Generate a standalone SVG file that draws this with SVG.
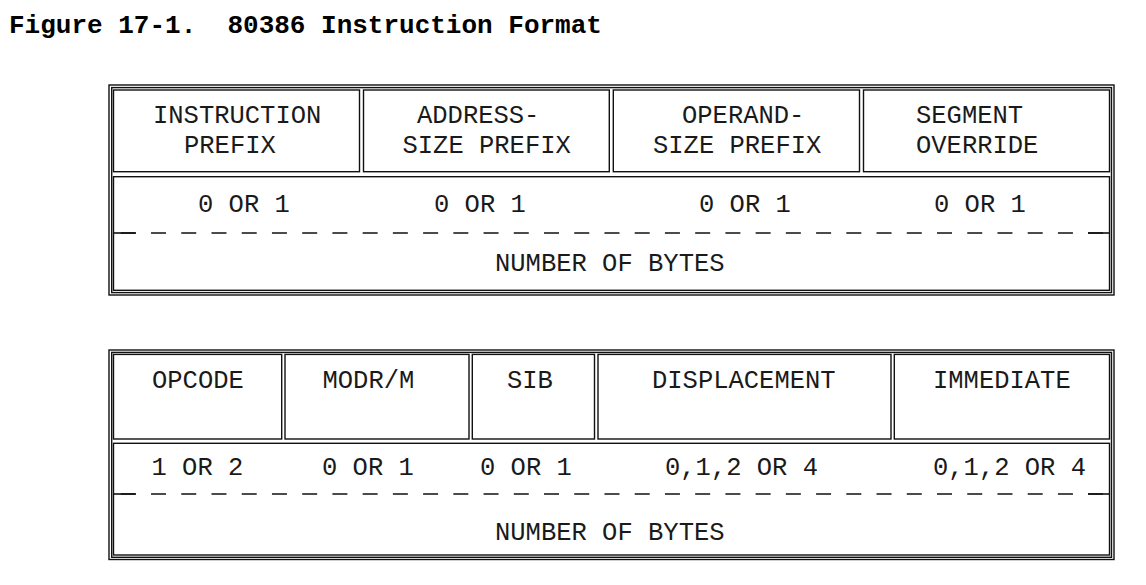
<svg xmlns="http://www.w3.org/2000/svg" width="1146" height="585" viewBox="0 0 1146 585">
<style>
  .frame { fill: none; stroke: #111; stroke-width: 1.4; }
  .cell { fill: none; stroke: #111; stroke-width: 1.4; }
  .dash { stroke: #111; stroke-width: 1.6; stroke-dasharray: 15 15.23; fill: none; }
  .solid { stroke: #111; stroke-width: 1.6; fill: none; }
  .t { font-family: "Liberation Mono", "DejaVu Sans Mono", monospace; font-size: 25.5px; fill: #1a1a1a; white-space: pre; }
  .title { font-family: "Liberation Mono", "DejaVu Sans Mono", monospace; font-size: 26px; font-weight: bold; fill: #000; white-space: pre; }
</style>
<rect width="1146" height="585" fill="#fff"/>
<text class="title" x="9" y="33" xml:space="preserve">Figure 17-1.  80386 Instruction Format</text>

<g id="format-prefixes">
  <rect class="frame" x="109" y="85" width="1005" height="210"/>
  <rect class="frame" x="111.7" y="87.6" width="999.8" height="205"/>
  <g id="instruction-prefix">
    <rect class="cell" x="113.5" y="90" width="246" height="81.7"/>
    <text class="t" x="153" y="123">INSTRUCTION</text>
    <text class="t" x="184" y="153">PREFIX</text>
  </g>
  <g id="address-size-prefix">
    <rect class="cell" x="363.5" y="90" width="245.8" height="81.7"/>
    <text class="t" x="417" y="123">ADDRESS-</text>
    <text class="t" x="402.5" y="153">SIZE PREFIX</text>
  </g>
  <g id="operand-size-prefix">
    <rect class="cell" x="613.3" y="90" width="246.2" height="81.7"/>
    <text class="t" x="682" y="123">OPERAND-</text>
    <text class="t" x="653" y="153">SIZE PREFIX</text>
  </g>
  <g id="segment-override">
    <rect class="cell" x="863.5" y="90" width="246" height="81.7"/>
    <text class="t" x="916" y="123">SEGMENT</text>
    <text class="t" x="916" y="153">OVERRIDE</text>
  </g>
  <g id="prefix-bytes">
    <rect class="cell" x="113.5" y="176.7" width="996" height="113.6"/>
    <text class="t" x="198" y="211.5">0 OR 1</text>
    <text class="t" x="434" y="211.5">0 OR 1</text>
    <text class="t" x="699" y="211.5">0 OR 1</text>
    <text class="t" x="934" y="211.5">0 OR 1</text>
    <line class="solid" x1="113.5" y1="233" x2="135.8" y2="233"/>
    <line class="dash" x1="120.8" y1="233" x2="1103" y2="233"/>
    <line class="solid" x1="1088" y1="233" x2="1109.5" y2="233"/>
    <text class="t" x="495" y="271">NUMBER OF BYTES</text>
  </g>
</g>

<g id="format-instruction">
  <rect class="frame" x="109" y="350" width="1005" height="209.5"/>
  <rect class="frame" x="111.7" y="352.4" width="999.8" height="204.9"/>
  <g id="opcode">
    <rect class="cell" x="113.5" y="354.4" width="168.2" height="84.6"/>
    <text class="t" x="152" y="388">OPCODE</text>
  </g>
  <g id="modrm">
    <rect class="cell" x="285" y="354.4" width="184" height="84.6"/>
    <text class="t" x="322.5" y="388">MODR/M</text>
  </g>
  <g id="sib">
    <rect class="cell" x="472.3" y="354.4" width="122.2" height="84.6"/>
    <text class="t" x="507" y="388">SIB</text>
  </g>
  <g id="displacement">
    <rect class="cell" x="598" y="354.4" width="293" height="84.6"/>
    <text class="t" x="652" y="388">DISPLACEMENT</text>
  </g>
  <g id="immediate">
    <rect class="cell" x="894.3" y="354.4" width="215.2" height="84.6"/>
    <text class="t" x="933" y="388">IMMEDIATE</text>
  </g>
  <g id="instruction-bytes">
    <rect class="cell" x="113.5" y="443.3" width="996" height="111.7"/>
    <text class="t" x="151.5" y="475">1 OR 2</text>
    <text class="t" x="322" y="475">0 OR 1</text>
    <text class="t" x="480" y="475">0 OR 1</text>
    <text class="t" x="665" y="475">0,1,2 OR 4</text>
    <text class="t" x="933" y="475">0,1,2 OR 4</text>
    <line class="solid" x1="113.5" y1="494" x2="135.8" y2="494"/>
    <line class="dash" x1="120.8" y1="494" x2="1103" y2="494"/>
    <line class="solid" x1="1088" y1="494" x2="1109.5" y2="494"/>
    <text class="t" x="495" y="540">NUMBER OF BYTES</text>
  </g>
</g>
<g id="connectors"/>
</svg>
